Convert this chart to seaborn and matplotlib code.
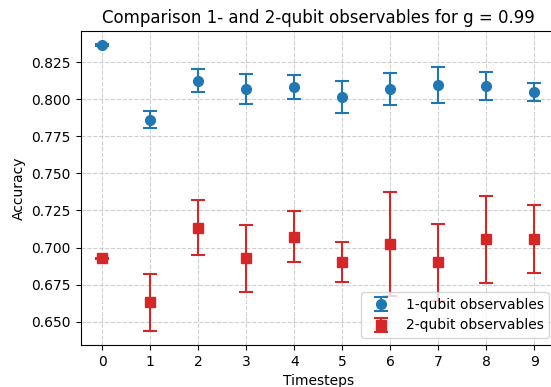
import numpy as np
import pandas as pd
import matplotlib
matplotlib.use("Agg")
import matplotlib.pyplot as plt
import seaborn as sns

timesteps = [0, 1, 2, 3, 4, 5, 6, 7, 8, 9]
acc_1q = [0.8365, 0.7862, 0.8125, 0.8068, 0.8084, 0.8014, 0.8068, 0.8096, 0.8089, 0.8049]
err_1q = [0.0005, 0.0060, 0.0075, 0.0103, 0.0080, 0.0110, 0.0107, 0.0120, 0.0092, 0.0062]
acc_2q = [0.6927, 0.6630, 0.7133, 0.6927, 0.7072, 0.6900, 0.7023, 0.6900, 0.7057, 0.7057]
err_2q = [0.0005, 0.0190, 0.0186, 0.0225, 0.0172, 0.0135, 0.0352, 0.0258, 0.0293, 0.0230]

label_1q = "1-qubit observables"
label_2q = "2-qubit observables"
title = "Comparison 1- and 2-qubit observables for g = 0.99"

sns.set_style("ticks")
plt.rcParams.update({
    "axes.edgecolor": "black",
    "text.color": "black",
    "axes.labelcolor": "black",
    "xtick.color": "black",
    "ytick.color": "black",
    "font.family": ["DejaVu Sans"],
})

palette = sns.color_palette("tab10")
blue = palette[0]
red = palette[3]

df = pd.DataFrame({"t": timesteps, "a1": acc_1q, "e1": err_1q, "a2": acc_2q, "e2": err_2q})

fig = plt.figure(figsize=(5.51, 3.87), dpi=100)
ax = fig.add_axes([80.5 / 551, (387 - 345) / 387, (556 - 80.5) / 551, (345 - 31) / 387])

ax.errorbar(df["t"], df["a1"], yerr=df["e1"], fmt="o", color=blue, capsize=5,
            markersize=7, elinewidth=1.5, capthick=1.5, label=label_1q)
ax.errorbar(df["t"], df["a2"], yerr=df["e2"], fmt="s", color=red, capsize=5,
            markersize=7, elinewidth=1.5, capthick=1.5, label=label_2q)

ax.set_xticks(timesteps)
ax.set_yticks([0.650, 0.675, 0.700, 0.725, 0.750, 0.775, 0.800, 0.825])
ax.set_ylim(0.6343, 0.8459)
ax.set_xlim(-0.45, 9.45)
ax.grid(True, linestyle="--", color="#b0b0b0", linewidth=0.8, alpha=0.6)
ax.set_xlabel("Timesteps")
ax.set_ylabel("Accuracy")
ax.set_title(title, fontsize=12)
ax.legend(loc="lower right")

fig.savefig("out.png", dpi=100)
